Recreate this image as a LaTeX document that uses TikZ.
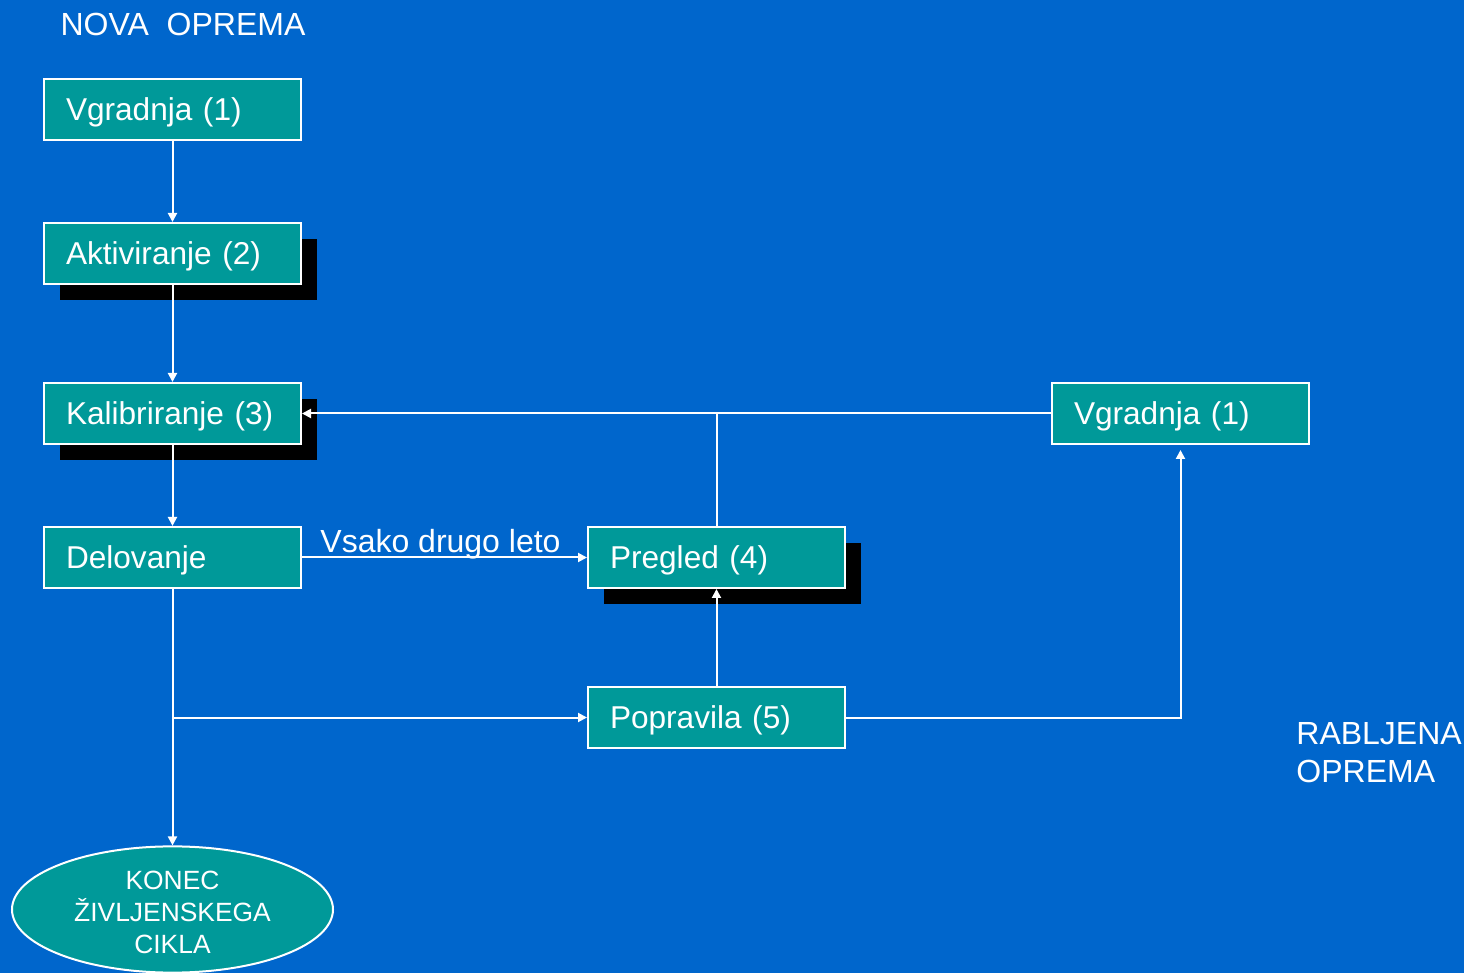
\documentclass[tikz,border=0pt]{standalone}
\usepackage{fontspec}
\setmainfont{Liberation Sans}
\usetikzlibrary{calc}
\usetikzlibrary{arrows.meta}
\usetikzlibrary{shapes.geometric}
\usetikzlibrary{shadows}
\definecolor{bgblue}{HTML}{0066CC}
\definecolor{boxteal}{HTML}{009999}

\begin{document}
\begin{tikzpicture}[
        x=0.5pt, y=-0.5pt,
        box/.style={draw=white, line width=1pt, fill=boxteal, text=white,
            inner xsep=11pt, inner ysep=0pt, text width=106.5pt, align=left,
            text height=11.3pt, text depth=0pt,
            minimum height=30.5pt, font=\fontsize{15.8pt}{19pt}\selectfont},
        shade box/.style={box, drop shadow={fill=black, opacity=1,
            shadow xshift=8pt, shadow yshift=-8pt}},
        endcycle/.style={ellipse, draw=white, line width=1pt, fill=boxteal,
            text=white, align=center, inner sep=0pt, minimum width=160.5pt,
            minimum height=62.5pt, font=\fontsize{13.2pt}{16pt}\selectfont},
        caption/.style={text=white, inner sep=0pt, align=left,
            font=\fontsize{16pt}{19pt}\selectfont},
        flow/.style={draw=white, line width=1pt},
        >={Triangle[length=4.5pt,width=4.5pt]}
    ]
        \fill[bgblue] (0,0) rectangle (1464,973);
        \useasboundingbox (0,0) rectangle (1464,973);
        \node[caption] (nova) at (183,24) {NOVA\ \ OPREMA};
        \node[box] (vgrA) at (172.5,109.5) {Vgradnja (1)};
        \node[shade box] (akt) at ($(vgrA) + (0,144)$) {Aktiviranje (2)};
        \node[shade box] (kal) at ($(akt) + (0,160)$) {Kalibriranje (3)};
        \node[box] (del) at ($(kal) + (0,144)$) {Delovanje};
        \node[shade box] (preg) at ($(del) + (544,0)$) {Pregled (4)};
        \node[box] (pop) at ($(preg) + (0,160)$) {Popravila (5)};
        \node[box] (vgrB) at ($(kal) + (1008,0)$) {Vgradnja (1)};
        \node[endcycle] (konec) at (172.5,909.5) {\rule{0pt}{12.5pt}KONEC\\ŽIVLJENSKEGA\\CIKLA};
        \node[caption, anchor=west] (rabljena) at (1296,753) {RABLJENA\\OPREMA};
        \draw[flow,->] (vgrA) -- (akt);
        \draw[flow,->] (akt) -- (kal);
        \draw[flow,->] (kal) -- (del);
        \draw[flow,->] (del) -- node[caption, above, inner sep=0pt, xshift=-2pt, yshift=-1.5pt] {Vsako drugo leto} (preg);
        \draw[flow,->] (vgrB) -- (kal);
        \draw[flow] (preg.north) -- (preg.north |- kal.east);
        \draw[flow,->] (pop) -- (preg);
        \draw[flow,->] (del) -- (konec);
        \draw[flow,->] (del.south |- pop.west) -- (pop);
        \draw[flow,->,shorten >=2.5pt] (pop.east) -| (vgrB.south);
    \end{tikzpicture}
\end{document}
